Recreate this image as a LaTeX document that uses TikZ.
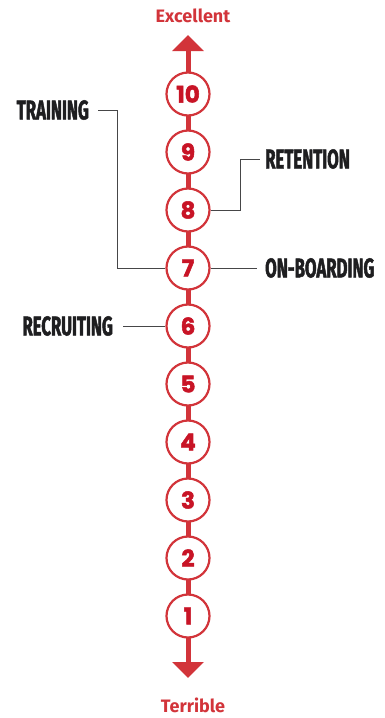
\documentclass[tikz,border=0pt]{standalone}
\usepackage{fontspec}
\setmainfont{Fira Sans}
\newfontfamily\numfont[FakeBold=2.2]{Poppins}
\newfontfamily\labelfont[FakeStretch=0.62,FakeBold=1.6]{Fira Sans}
\usetikzlibrary{arrows.meta}
\definecolor{axisred}{RGB}{210,52,58}
\definecolor{numred}{RGB}{200,20,38}
\definecolor{labelblack}{RGB}{30,30,32}
\definecolor{leadgray}{RGB}{70,70,72}
\begin{document}
\begin{tikzpicture}[x=1pt,y=-1pt,
    rating/.style={circle,draw=axisred,line width=2.2pt,fill=white,
      minimum size=43pt,inner sep=0pt,text=numred,font=\numfont\bfseries\fontsize{23}{23}\selectfont},
    tag/.style={text=labelblack,inner sep=0pt,font=\labelfont\bfseries\fontsize{27}{27}\selectfont},
    pole/.style={text=axisred,inner sep=0pt,font=\bfseries\fontsize{18}{18}\selectfont},
    lead/.style={draw=leadgray,line width=1pt}]
      \useasboundingbox (0,0) rectangle (385,718);
      \coordinate (top) at (188,35);
      \coordinate (bottom) at (188,678);
      \draw[axisred,line width=5pt,
        {Triangle[width=31pt,length=16pt]}-{Triangle[width=31pt,length=16pt]}]
        (bottom) -- (top);
      \draw
        (188,94) node[rating] (10){10}
        (188,152) node[rating] (9){9}
        (188,210) node[rating] (8){8}
        (188,268) node[rating] (7){7}
        (188,326) node[rating] (6){6}
        (188,384) node[rating] (5){5}
        (188,442) node[rating] (4){4}
        (188,500) node[rating] (3){3}
        (188,558) node[rating] (2){2}
        (188,616) node[rating] (1){1};
      \node[pole] (excellent) at (193,16) {Excellent};
      \node[pole] (terrible) at (193,705) {Terrible};
      \node[tag,anchor=east] (training) at (89,110) {TRAINING};
      \node[tag,anchor=west] (retention) at (265,159) {RETENTION};
      \node[tag,anchor=west] (onboarding) at (265,268) {ON-BOARDING};
      \node[tag,anchor=east] (recruiting) at (113,326) {RECRUITING};
      \begin{scope}[lead]
        \draw ([xshift=9pt]training.east) -- ++(19,0) |- (7.west);
        \draw (8.east) -- ++(30,0) |- ([xshift=-5pt]retention.west);
        \draw (7.east) -- ([xshift=-8pt]onboarding.west);
        \draw ([xshift=10pt]recruiting.east) -- (6.west);
      \end{scope}
    \end{tikzpicture}
\end{document}
